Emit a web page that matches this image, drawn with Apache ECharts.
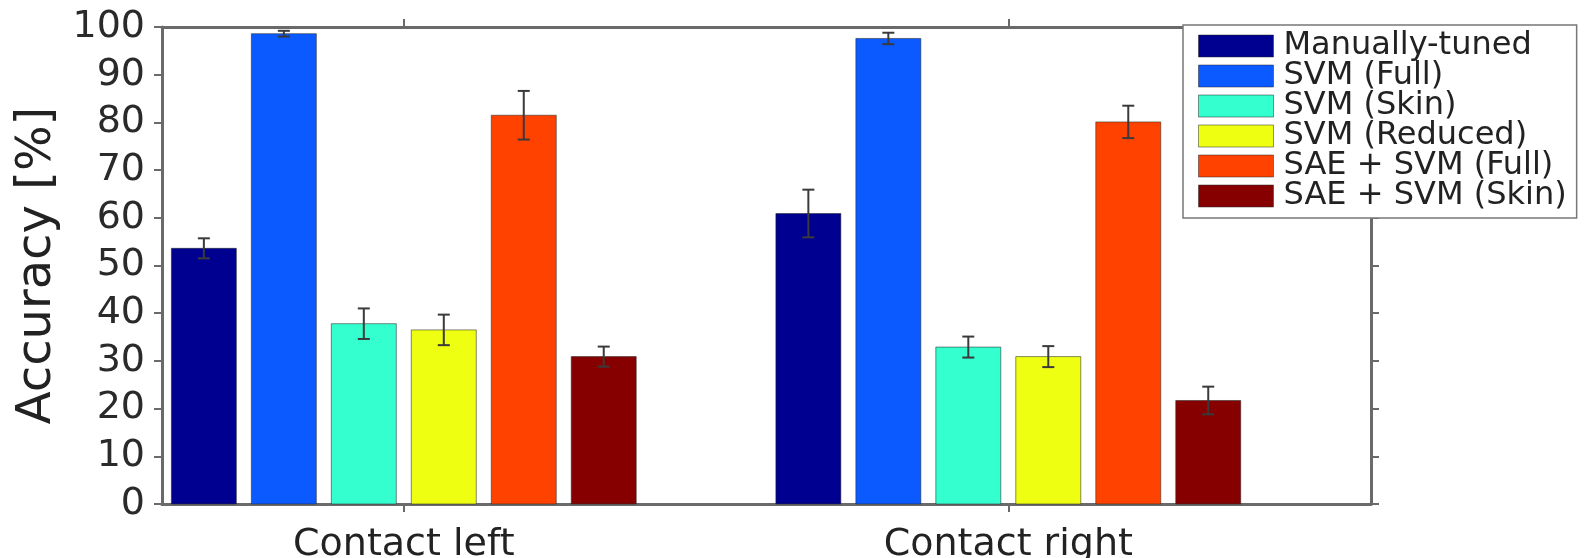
<!DOCTYPE html>
<html>
<head>
<meta charset="utf-8">
<script src="https://cdn.jsdelivr.net/npm/echarts@6/dist/echarts.min.js"></script>
<style>
  html, body { margin: 0; padding: 0; background: #fff; }
  #chart { width: 1596px; height: 558px; }
</style>
</head>
<body>
<div id="chart"></div>
<script>
// ---- data ----
const categories = ['Contact left', 'Contact right'];
const seriesNames = ['Manually-tuned', 'SVM (Full)', 'SVM (Skin)', 'SVM (Reduced)', 'SAE + SVM (Full)', 'SAE + SVM (Skin)'];
const manualTuned = [53.6, 60.9];
const manualTunedErr = [2.1, 5.0];
const svmFull = [98.6, 97.6];
const svmFullErr = [0.6, 1.2];
const svmSkin = [37.8, 32.9];
const svmSkinErr = [3.2, 2.2];
const svmReduced = [36.5, 30.9];
const svmReducedErr = [3.2, 2.2];
const saeFull = [81.5, 80.1];
const saeFullErr = [5.1, 3.4];
const saeSkin = [30.9, 21.7];
const saeSkinErr = [2.1, 2.9];
const yTickValues = [0, 10, 20, 30, 40, 50, 60, 70, 80, 90, 100];

const seriesValues = [manualTuned, svmFull, svmSkin, svmReduced, saeFull, saeSkin];
const seriesErrors = [manualTunedErr, svmFullErr, svmSkinErr, svmReducedErr, saeFullErr, saeSkinErr];
const colors = ['#000090', '#0a5aff', '#33ffcf', '#eeff12', '#ff4200', '#860000'];

// ---- style constants ----
const BAR_STEP = 0.1323;   // distance between bar centres (in category units)
const BAR_W = 0.1075;      // bar width (in category units)
const CAP_HALF = 6;        // error-bar cap half-width, px
const AXIS_COLOR = '#6a6a6a';
const FONT = 'DejaVu Sans';

const catIdx = categories.map((c, i) => i);

function renderBar(params, api) {
  const ci = api.value(0);
  const v = api.value(1);
  const e = api.value(2);
  const n = seriesNames.length;
  const xc = ci + (params.seriesIndex - (n - 1) / 2) * BAR_STEP;
  const tl = api.coord([xc - BAR_W / 2, v]);
  const br = api.coord([xc + BAR_W / 2, 0]);
  const top = api.coord([xc, v + e]);
  const bot = api.coord([xc, v - e]);
  const errStyle = { stroke: '#3a3a3a', lineWidth: 2 };
  return {
    type: 'group',
    children: [
      {
        type: 'rect',
        shape: { x: tl[0], y: tl[1], width: br[0] - tl[0], height: br[1] - tl[1] },
        style: { fill: api.visual('color'), stroke: 'rgba(40,40,40,0.55)', lineWidth: 1 }
      },
      { type: 'line', shape: { x1: top[0], y1: top[1], x2: bot[0], y2: bot[1] }, style: errStyle },
      { type: 'line', shape: { x1: top[0] - CAP_HALF, y1: top[1], x2: top[0] + CAP_HALF, y2: top[1] }, style: errStyle },
      { type: 'line', shape: { x1: bot[0] - CAP_HALF, y1: bot[1], x2: bot[0] + CAP_HALF, y2: bot[1] }, style: errStyle }
    ]
  };
}

const series = seriesNames.map((name, s) => ({
  name: name,
  type: 'custom',
  renderItem: renderBar,
  itemStyle: { color: colors[s] },
  encode: { x: 0, y: 1 },
  data: catIdx.map(i => [i, seriesValues[s][i], seriesErrors[s][i]]),
  z: 2
}));

const axisLineStyle = { color: AXIS_COLOR, width: 3 };

const option = {
  animation: false,
  backgroundColor: '#ffffff',
  grid: { left: 162, right: 225, top: 27, bottom: 54, containLabel: false, outerBoundsMode: 'none' },
  xAxis: [
    {
      type: 'value', position: 'bottom', min: -0.4, max: 1.6,
      splitLine: { show: false },
      axisLine: { show: true, onZero: false, lineStyle: axisLineStyle },
      axisTick: { show: true, customValues: catIdx, length: 8, lineStyle: { color: AXIS_COLOR, width: 2 } },
      axisLabel: {
        customValues: catIdx,
        formatter: v => categories[Math.round(v)],
        fontFamily: FONT, fontSize: 38, color: '#222', margin: 22
      }
    },
    {
      type: 'value', position: 'top', min: -0.4, max: 1.6,
      splitLine: { show: false },
      axisLine: { show: true, onZero: false, lineStyle: axisLineStyle },
      axisTick: { show: true, customValues: catIdx, length: 8, lineStyle: { color: AXIS_COLOR, width: 2 } },
      axisLabel: { show: false }
    }
  ],
  yAxis: [
    {
      type: 'value', position: 'left', min: 0, max: 100, interval: 10,
      name: 'Accuracy [%]', nameLocation: 'middle', nameGap: 76,
      nameTextStyle: { fontFamily: FONT, fontSize: 48, color: '#222' },
      splitLine: { show: false },
      axisLine: { show: true, onZero: false, lineStyle: axisLineStyle },
      axisTick: { show: true, length: 8, lineStyle: { color: AXIS_COLOR, width: 2 } },
      axisLabel: {
        fontFamily: FONT, fontSize: 38, color: '#2a2a2a', margin: 17,
        formatter: v => (yTickValues.indexOf(v) >= 0 ? String(v) : '')
      }
    },
    {
      type: 'value', position: 'right', min: 0, max: 100, interval: 10,
      splitLine: { show: false },
      axisLine: { show: true, onZero: false, lineStyle: axisLineStyle },
      axisTick: { show: true, length: 8, lineStyle: { color: AXIS_COLOR, width: 2 } },
      axisLabel: { show: false }
    }
  ],
  legend: {
    orient: 'vertical',
    left: 1183, top: 25,
    z: 10,
    data: seriesNames,
    icon: 'rect',
    itemWidth: 75, itemHeight: 22, itemGap: -2,
    padding: [5, 10, 6, 15],
    backgroundColor: '#ffffff',
    borderColor: '#777',
    borderWidth: 1.5,
    borderRadius: 0,
    selectedMode: false,
    itemStyle: { borderColor: 'rgba(40,40,40,0.5)', borderWidth: 1 },
    textStyle: { fontFamily: FONT, fontSize: 32, color: '#222', lineHeight: 30, padding: [0, 0, 0, 5] }
  },
  series: series
};

const chart = echarts.init(document.getElementById('chart'), null, { renderer: 'canvas' });
chart.setOption(option);
</script>
</body>
</html>
